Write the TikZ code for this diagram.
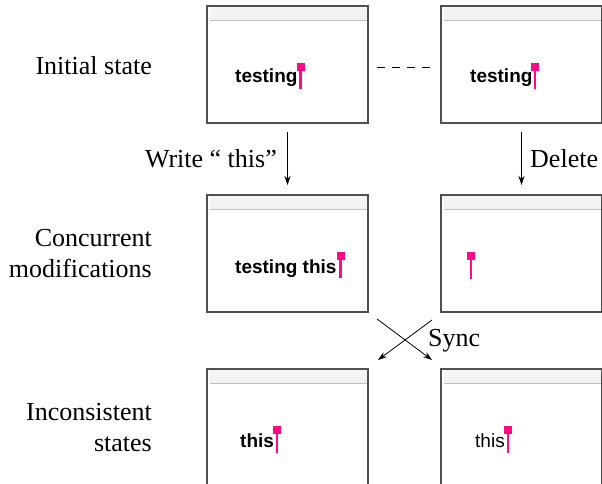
\documentclass[tikz,border=0pt]{standalone}
\usepackage{fontspec}
\setmainfont{Liberation Serif}
\newfontfamily\winfont{Liberation Sans}
\usetikzlibrary{arrows.meta}
\definecolor{cursorpink}{HTML}{FF0A84}
\definecolor{framegray}{HTML}{505050}
\tikzset{
  win/.style={draw=framegray, line width=1.1pt, fill=white, inner sep=0pt, outer sep=0pt,
    minimum width=161pt, minimum height=117pt, anchor=north west,
    path picture={
      \shade[top color=gray!8, bottom color=gray!30]
        ([xshift=3pt,yshift=-1pt]path picture bounding box.north west)
        rectangle ([yshift=-14pt]path picture bounding box.north east);
      \draw[gray!50, line width=0.7pt]
        ([xshift=3pt,yshift=-14pt]path picture bounding box.north west)
        -- ([yshift=-14pt]path picture bounding box.north east);
    }},
  lab/.style={font=\fontsize{26}{31}\selectfont, inner sep=0pt, align=right},
  wtext/.style={font=\winfont\fontsize{19}{22}\selectfont, inner sep=0pt, anchor=base west},
  wbold/.style={wtext, font=\winfont\bfseries\fontsize{19}{22}\selectfont},
  arr/.style={-{Stealth[length=9pt,width=6pt]}, line width=0.8pt},
}
\newcommand{\mycursor}[3]{%
  \fill[cursorpink] (#1-4,#2) rectangle (#1+4,#2+8);
  \draw[cursorpink, line width=2.6pt] (#1,#2+6) -- (#1,#3);
}
\begin{document}
\begin{tikzpicture}[x=1pt,y=-1pt]
\useasboundingbox (0,0) rectangle (602,484);
\clip (0,0) rectangle (602,484);
% windows
\node[win] (tl) at (207,6) {};
\node[win] (tr) at (441,6) {};
\node[win] (ml) at (207,195) {};
\node[win] (mr) at (441,195) {};
\node[win] (bl) at (207,369) {};
\node[win] (br) at (441,369) {};
% window texts
\node[wbold] (t1) at (235,83) {testing};
\node[wbold] (t2) at (470,83) {testing};
\node[wbold] (t3) at (235,273) {testing this};
\node[wbold] (t4) at (240,447) {this};
\node[wtext] (t5) at (475,447) {this};
% cursors
\mycursor{300.5}{63}{89}
\mycursor{535}{63}{89}
\mycursor{340.5}{252}{278}
\mycursor{471}{252}{279}
\mycursor{277}{426}{453}
\mycursor{508}{426}{453}
% row labels
\node[lab, anchor=base east] (l1) at (152,75) {Initial state};
\node[lab, anchor=base east] (l2) at (152,277) {Concurrent\\modifications};
\node[lab, anchor=base east] (l3) at (152,451) {Inconsistent\\states};
% dashed link
\draw[line width=0.8pt, dash pattern=on 8pt off 7pt] ([xshift=9pt,yshift=-2.5pt]tl.east) -- ([xshift=-9pt,yshift=-2.5pt]tr.west);
% vertical arrows
\draw[arr, shorten <=9pt, shorten >=10pt] (tl.south) -- (ml.north);
\draw[arr, shorten <=9pt, shorten >=10pt] (tr.south) -- (mr.north);
\node[lab, anchor=base east] (w) at (277,167) {Write “ this”};
\node[lab, anchor=base west] (d) at (530,167) {Delete};
% sync cross
\coordinate (c1) at (377,319);
\coordinate (c2) at (432,360);
\coordinate (c3) at (432,320);
\coordinate (c4) at (378,360);
\draw[arr] (c1) -- (c2);
\draw[arr] (c3) -- (c4);
\node[lab, anchor=base west] (s) at (428,346) {Sync};
\end{tikzpicture}
\end{document}
